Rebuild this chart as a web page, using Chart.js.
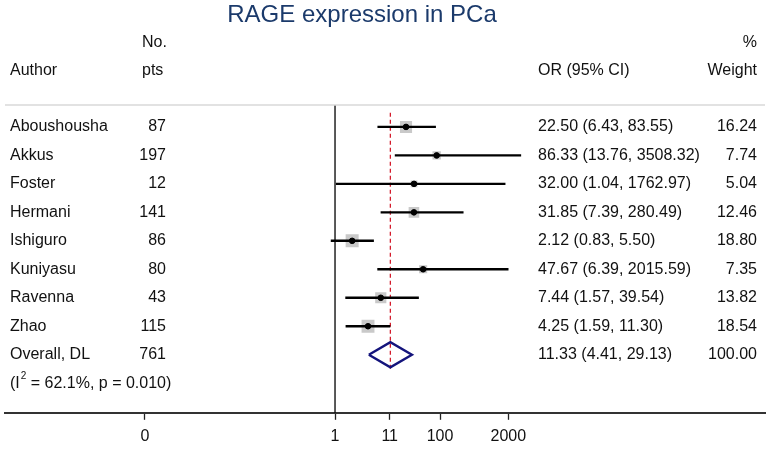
<!DOCTYPE html>
<html>
<head>
<meta charset="utf-8">
<title>RAGE expression in PCa</title>
<script src="https://cdn.jsdelivr.net/npm/chart.js@4.4.1/dist/chart.umd.min.js"></script>
<style>
  html, body { margin: 0; padding: 0; background: #fff; }
  #wrap { width: 769px; height: 451px; }
</style>
</head>
<body>
<div id="wrap"><canvas id="forest"></canvas></div>
<script>
// study data
const authors = ["Aboushousha", "Akkus", "Foster", "Hermani", "Ishiguro", "Kuniyasu", "Ravenna", "Zhao"];
const patients = [87, 197, 12, 141, 86, 80, 43, 115];
const oddsRatio = [22.50, 86.33, 32.00, 31.85, 2.12, 47.67, 7.44, 4.25];
const ciLow = [6.43, 13.76, 1.04, 7.39, 0.83, 6.39, 1.57, 1.59];
const ciHigh = [83.55, 3508.32, 1762.97, 280.49, 5.50, 2015.59, 39.54, 11.30];
const weights = [16.24, 7.74, 5.04, 12.46, 18.80, 7.35, 13.82, 18.54];

// pooled estimate
const overallLabel = "Overall, DL";
const overallN = 761;
const overallOR = 11.33;
const overallLow = 4.41;
const overallHigh = 29.13;
const overallWeight = 100.00;
const heterogeneity = { i2: "62.1%", p: "0.010" };

// x axis ticks (the "0" sits far left, like the Stata output)
const tickValues = [0.00024, 1, 11, 100, 2000];
const tickLabels = ["0", "1", "11", "100", "2000"];

const FONT = "'Liberation Sans', Arial, sans-serif";
const nRows = authors.length;

// CI lines, one dataset per study
const ciSets = authors.map((a, i) => ({
  type: "line",
  label: a + " CI",
  data: [{ x: ciLow[i], y: i }, { x: ciHigh[i], y: i }],
  borderColor: "#000",
  borderWidth: 2.4,
  pointRadius: 0,
  order: 2
}));

const textPlugin = {
  id: "forestText",
  afterDraw(chart) {
    const ctx = chart.ctx;
    const yS = chart.scales.y;
    const area = chart.chartArea;
    ctx.save();

    // title
    ctx.fillStyle = "#1b3a6b";
    ctx.font = "24px " + FONT;
    ctx.textAlign = "center";
    ctx.textBaseline = "middle";
    ctx.fillText("RAGE expression in PCa", 362, 15);

    // headers
    ctx.fillStyle = "#111";
    ctx.font = "16px " + FONT;
    ctx.textAlign = "left";
    ctx.fillText("Author", 10, 71);
    ctx.fillText("No.", 142, 43);
    ctx.fillText("pts", 142, 71);
    ctx.fillText("OR (95% CI)", 538, 71);
    ctx.textAlign = "right";
    ctx.fillText("%", 757, 43);
    ctx.fillText("Weight", 757, 71);

    // separator under headers
    ctx.strokeStyle = "#d8d8d8";
    ctx.lineWidth = 1.5;
    ctx.beginPath();
    ctx.moveTo(area.left, area.top);
    ctx.lineTo(area.right, area.top);
    ctx.stroke();

    // study rows
    authors.forEach((a, i) => {
      const y = yS.getPixelForValue(i);
      ctx.textAlign = "left";
      ctx.fillText(a, 10, y);
      ctx.fillText(oddsRatio[i].toFixed(2) + " (" + ciLow[i].toFixed(2) + ", " + ciHigh[i].toFixed(2) + ")", 538, y);
      ctx.textAlign = "right";
      ctx.fillText(String(patients[i]), 166, y);
      ctx.fillText(weights[i].toFixed(2), 757, y);
    });

    // overall row
    let y = yS.getPixelForValue(nRows);
    ctx.textAlign = "left";
    ctx.fillText(overallLabel, 10, y);
    ctx.fillText(overallOR.toFixed(2) + " (" + overallLow.toFixed(2) + ", " + overallHigh.toFixed(2) + ")", 538, y);
    ctx.textAlign = "right";
    ctx.fillText(String(overallN), 166, y);
    ctx.fillText(overallWeight.toFixed(2), 757, y);

    // heterogeneity line with superscript
    y = yS.getPixelForValue(nRows + 1);
    ctx.textAlign = "left";
    let x = 10;
    ctx.fillText("(I", x, y);
    x += ctx.measureText("(I").width;
    ctx.font = "10px " + FONT;
    ctx.fillText("2", x + 1, y - 7);
    x += ctx.measureText("2").width + 1;
    ctx.font = "16px " + FONT;
    ctx.fillText(" = " + heterogeneity.i2 + ", p = " + heterogeneity.p + ")", x, y);

    ctx.restore();
  }
};

const ctx = document.getElementById("forest").getContext("2d");
new Chart(ctx, {
  type: "scatter",
  data: {
    datasets: [
      {
        label: "Point estimate",
        data: oddsRatio.map((v, i) => ({ x: v, y: i })),
        backgroundColor: "#000",
        borderColor: "#000",
        pointRadius: 2.8,
        pointStyle: "circle",
        order: 1
      },
      ...ciSets,
      {
        label: "Weight box",
        data: oddsRatio.map((v, i) => ({ x: v, y: i })),
        backgroundColor: "#c9c9c9",
        borderWidth: 0,
        pointStyle: "rect",
        pointRadius: weights.map(w => 3 * Math.sqrt(w) / Math.SQRT2),
        order: 3
      },
      {
        type: "line",
        label: "Overall",
        data: [
          { x: overallLow, y: nRows },
          { x: overallOR, y: nRows - 0.44 },
          { x: overallHigh, y: nRows },
          { x: overallOR, y: nRows + 0.44 },
          { x: overallLow, y: nRows }
        ],
        borderColor: "#14147c",
        borderWidth: 2.4,
        pointRadius: 0,
        fill: false,
        order: 1
      },
      {
        type: "line",
        label: "Overall estimate line",
        data: [{ x: overallOR, y: -0.5 }, { x: overallOR, y: nRows + 0.5 }],
        borderColor: "#d41c2c",
        borderWidth: 1.3,
        borderDash: [4, 3],
        pointRadius: 0,
        order: 4
      },
      {
        type: "line",
        label: "No effect",
        data: [{ x: 1, y: -1 }, { x: 1, y: 11 }],
        borderColor: "#000",
        borderWidth: 1.3,
        pointRadius: 0,
        order: 5
      }
    ]
  },
  options: {
    responsive: true,
    maintainAspectRatio: false,
    animation: false,
    layout: { autoPadding: false, padding: { top: 105, left: 5, right: 4, bottom: -2 } },
    plugins: {
      legend: { display: false },
      tooltip: { enabled: false },
      title: { display: false }
    },
    scales: {
      x: {
        type: "logarithmic",
        min: Math.pow(10, -6.286),
        max: Math.pow(10, 8.19),
        afterBuildTicks: axis => {
          axis.ticks = tickValues.map(v => ({ value: v }));
        },
        ticks: {
          autoSkip: false,
          maxRotation: 0,
          padding: 7,
          color: "#111",
          font: { family: FONT, size: 16 },
          callback: (v, idx) => tickLabels[idx]
        },
        grid: {
          drawOnChartArea: false,
          drawTicks: true,
          tickLength: 7,
          tickColor: "#222",
          tickWidth: 1.3
        },
        border: { display: true, color: "#333", width: 2 }
      },
      y: {
        type: "linear",
        display: false,
        reverse: true,
        min: -0.77,
        max: 10.04
      }
    }
  },
  plugins: [textPlugin]
});
</script>
</body>
</html>
